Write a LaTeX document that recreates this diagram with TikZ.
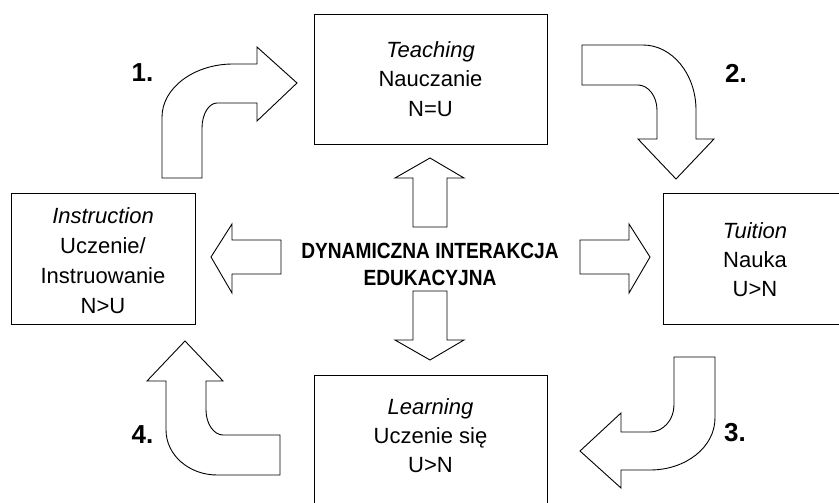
\documentclass[tikz,border=0pt]{standalone}
\usepackage{fontspec}
\setmainfont{Liberation Sans}
\newfontfamily\narrowb[FakeStretch=0.87]{Liberation Sans}
\begin{document}
\begin{tikzpicture}[x=1pt,y=-1pt,
  box/.style={draw=black,line width=0.9pt,fill=white,align=center,inner sep=0pt,
    font=\fontsize{22}{29.5}\selectfont},
  txt/.style={align=center,inner sep=0pt,font=\fontsize{22}{29}\selectfont},
  blockarrow/.style={draw=black,line width=0.9pt,fill=white,line join=miter},
  num/.style={inner sep=0pt,font=\fontsize{26}{30}\selectfont\bfseries},
  centre/.style={align=center,inner sep=0pt,font=\narrowb\bfseries\fontsize{22}{27}\selectfont}]
\useasboundingbox (0,0) rectangle (839,503);
\clip (0,0) rectangle (839,503);
\fill[white] (0,0) rectangle (839,503);

% boxes
\node[box,minimum width=233pt,minimum height=130pt] (teach) at (430.5,79) {\textit{Teaching}\\Nauczanie\\N=U};
\node[box,minimum width=184pt,minimum height=131pt] (instr) at (103,258.5) {};
\node[txt,font=\fontsize{22}{30}\selectfont] (instrtxt) at (103,261) {\textit{Instruction}\\Uczenie/\\Instruowanie\\N>U};
\node[box,minimum width=184pt,minimum height=131pt,anchor=north] (tuit) at (755,193) {};
\node[txt] (tuittxt) at (755,259.5) {\textit{Tuition}\\Nauka\\U>N};
\node[box,minimum width=233pt,minimum height=150pt,anchor=north] (learn) at (430.5,375) {};
\node[txt] (learntxt) at (430.5,436) {\textit{Learning}\\Uczenie się\\U>N};

% centre text
\node[centre] (dyn) at (430,264) {DYNAMICZNA INTERAKCJA\\EDUKACYJNA};

% straight arrows from centre
\draw[blockarrow] (413,227) -- (413,178) -- (395,178) -- (430,158) -- (464,178) -- (447,178) -- (447,227) -- cycle;
\draw[blockarrow] (413,291) -- (413,340) -- (395,340) -- (430,360) -- (464,340) -- (447,340) -- (447,291) -- cycle;
\draw[blockarrow] (281,240) -- (232,240) -- (232,224) -- (211,257) -- (232,293) -- (232,274) -- (281,274) -- cycle;
\draw[blockarrow] (580,240) -- (629,240) -- (629,224) -- (650,257) -- (629,293) -- (629,274) -- (580,274) -- cycle;

% curved arrow 1
\draw[blockarrow] (162,178) -- (162,117) .. controls (162,88) and (194,64) .. (233,64)
  -- (257,64) -- (257,47) -- (297,83) -- (257,121) -- (257,103) -- (217,103)
  .. controls (209,103) and (202,114) .. (202,128) -- (202,178) -- cycle;
% curved arrow 2
\draw[blockarrow] (582,45) -- (643,45) .. controls (672,45) and (696,74) .. (696,110)
  -- (696,139) -- (714,139) -- (676,179) -- (638,139) -- (657,139) -- (657,110)
  .. controls (657,96) and (648,85) .. (638,85) -- (582,85) -- cycle;
% curved arrow 3
\draw[blockarrow] (715,357) -- (715,418) .. controls (715,447) and (686,470) .. (650,470)
  -- (621,470) -- (621,488) -- (580,451) -- (621,413) -- (621,432) -- (650,432)
  .. controls (663,432) and (674,420) .. (674,405) -- (674,357) -- cycle;
% curved arrow 4
\draw[blockarrow] (280,435) -- (280,475) -- (217,475) .. controls (189,475) and (166,455) .. (166,430)
  -- (166,381) -- (147,381) -- (185,341) -- (223,381) -- (206,381) -- (206,410)
  .. controls (206,424) and (214,435) .. (223,435) -- cycle;

% numbers
\node[num] (n1) at (142.5,73) {1.};
\node[num] (n2) at (736,73) {2.};
\node[num] (n3) at (735,433) {3.};
\node[num] (n4) at (142.5,435) {4.};
\end{tikzpicture}
\end{document}
